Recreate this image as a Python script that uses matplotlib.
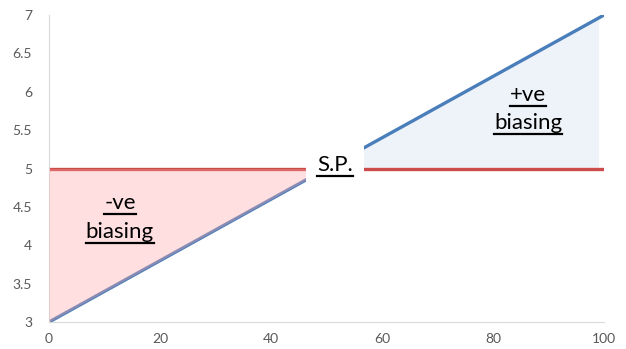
import numpy as np
import matplotlib
matplotlib.use("Agg")
import matplotlib.pyplot as plt
from matplotlib.lines import Line2D
from matplotlib.ticker import FuncFormatter

# data
x_line = [0, 100]
setpoint = [5, 5]
pv = [3, 7]
x_neg = [0, 50]
pv_neg = [3, 5]
x_pos = [50, 99]
pv_pos = [5, 6.96]
sp_x, sp_y = 51.5, 5.05

plt.rcParams['font.family'] = ['Lato', 'DejaVu Sans']
fig = plt.figure(figsize=(6.26, 3.49), dpi=100)
ax = fig.add_axes([0.078, 0.077, 0.887, 0.88])

ax.plot(x_line, pv, color='#4a7ebb', lw=2.4, zorder=2)
ax.plot(x_line, setpoint, color='#cc4b4b', lw=2.4, zorder=2)
ax.fill_between(x_neg, pv_neg, [5, 5], color='#ffa6a6', alpha=0.35, lw=0, zorder=3)
ax.fill_between(x_pos, [5, 5], pv_pos, color='#dfe8f6', alpha=0.5, lw=0, zorder=1)

ax.set_xlim(0, 100)
ax.set_ylim(3, 7)
ax.set_xticks([0, 20, 40, 60, 80, 100])
ax.set_yticks(np.arange(3, 7.01, 0.5))
ax.yaxis.set_major_formatter(FuncFormatter(lambda v, _: f"{v:g}"))
ax.tick_params(length=0, labelsize=10, colors='#595959')
ax.tick_params(axis='x', pad=8)
ax.tick_params(axis='y', pad=12)
for s in ['top', 'right']:
    ax.spines[s].set_visible(False)
for s in ['left', 'bottom']:
    ax.spines[s].set_color('#d9d9d9')

labels = []
labels.append(ax.text(sp_x, sp_y, "S.P.", ha='center', va='center', fontsize=16, zorder=5,
                      bbox=dict(facecolor='white', edgecolor='none', pad=8)))
for txt, xx, yy in [("-ve", 12.8, 4.55), ("biasing", 12.8, 4.17),
                    ("+ve", 86.3, 5.96), ("biasing", 86.3, 5.59)]:
    labels.append(ax.text(xx, yy, txt, ha='center', va='center', fontsize=16, zorder=5))

fig.canvas.draw()
r = fig.canvas.get_renderer()
inv = fig.transFigure.inverted()
for t in labels:
    bb = t.get_window_extent(r)
    (x0, y0), (x1, _) = inv.transform([(bb.x0, bb.y0 - 1), (bb.x1, bb.y0)])
    fig.add_artist(Line2D([x0, x1], [y0, y0], color='black', lw=1.6, zorder=6))

fig.savefig("out.png", dpi=100)
